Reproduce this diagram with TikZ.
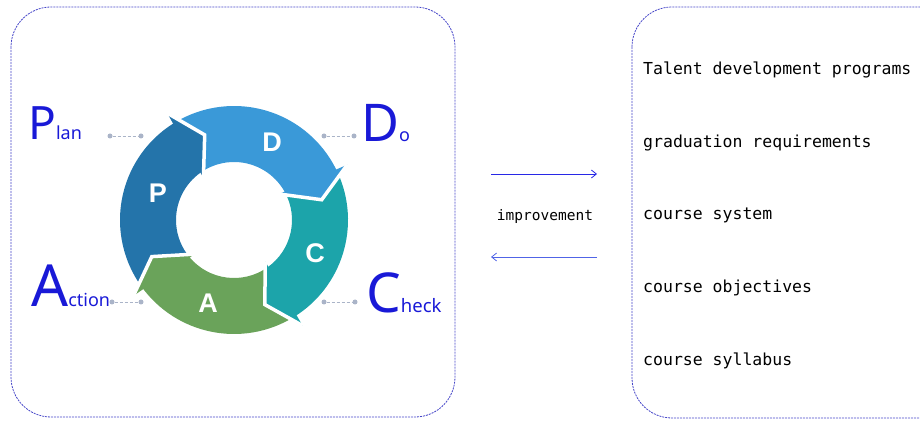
\documentclass[tikz,border=0pt]{standalone}
\usepackage{fontspec}
\setmainfont{Noto Sans}
\setmonofont{DejaVu Sans Mono}
\newfontfamily\segfont{Liberation Sans}
\usetikzlibrary{arrows.meta,positioning,calc}
\definecolor{labelblue}{RGB}{25,25,215}
\definecolor{frameblue}{RGB}{70,70,200}
\definecolor{leadgray}{RGB}{170,180,200}
\definecolor{plancol}{RGB}{36,116,170}
\definecolor{docol}{RGB}{58,153,216}
\definecolor{checkcol}{RGB}{28,164,170}
\definecolor{actcol}{RGB}{106,163,90}

\begin{document}
\begin{tikzpicture}[x=1pt,y=1pt,
frame/.style={draw=frameblue,line width=0.8pt,dash pattern=on 2pt off 1pt,rounded corners=40pt},
item/.style={anchor=west,inner sep=0pt,font=\ttfamily\fontsize{16.5}{16.5}\selectfont},
big/.style={anchor=base west,inner sep=0pt,text=labelblue},
letter/.style={text=white,inner sep=0pt,font=\segfont\bfseries\fontsize{27}{27}\selectfont},
gap/.style={draw=white,line width=3.5pt,line join=miter},
lead/.style={leadgray,densely dashed,line width=0.6pt},
dot/.style={circle,fill=leadgray,inner sep=0pt,minimum size=5pt},
flow/.style={-{Straight Barb[length=5pt,width=8pt]},line width=0.8pt}]
\useasboundingbox (0,0) rectangle (920,420);
\clip (0,0) rectangle (920,420);
% Cornici
\draw[frame] (11,413) rectangle (455,3);
\draw[frame] (632,413) rectangle (960,2);
% Ciclo PDCA
\begin{scope}[shift={(234,200)}]
\fill[plancol] (215.5:114) arc[start angle=215.5,end angle=120.5,radius=114pt] -- (124.5:58) arc[start angle=124.5,end angle=219.5,radius=58pt] -- cycle;
\fill[docol] (120.5:114) arc[start angle=120.5,end angle=24.5,radius=114pt] -- (28.5:58) arc[start angle=28.5,end angle=124.5,radius=58pt] -- cycle;
\fill[checkcol] (24.5:114) arc[start angle=24.5,end angle=-58.5,radius=114pt] -- (-54.5:58) arc[start angle=-54.5,end angle=28.5,radius=58pt] -- cycle;
\fill[actcol] (-58.5:114) arc[start angle=-58.5,end angle=-144.5,radius=114pt] -- (-140.5:58) arc[start angle=-140.5,end angle=-54.5,radius=58pt] -- cycle;
\fill[plancol] (122:126) -- (109:90) -- (126:52) -- cycle;
\fill[docol] (26:126) -- (13:90) -- (30:52) -- cycle;
\fill[checkcol] (-57:126) -- (-70:90) -- (-53:52) -- cycle;
\fill[actcol] (217:126) -- (204:90) -- (221:52) -- cycle;
\draw[gap] (122:126) -- (109:90) -- (126:52);
\draw[gap] (26:126) -- (13:90) -- (30:52);
\draw[gap] (-57:126) -- (-70:90) -- (-53:52);
\draw[gap] (217:126) -- (204:90) -- (221:52);
\node[letter] (lp) at (-76,27) {P};
\node[letter] (ld) at (38,78) {D};
\node[letter] (lc) at (81,-33) {C};
\node[letter] (la) at (-26,-83) {A};
\end{scope}
% Etichette
\node[big] (plan) at (28,280) {\fontsize{46}{46}\selectfont P\fontsize{18}{18}\selectfont lan};
\node[big] (do) at (361,278) {\fontsize{52}{52}\selectfont D\fontsize{18}{18}\selectfont o};
\node[big] (act) at (31,113) {\fontsize{58}{58}\selectfont A\fontsize{18}{18}\selectfont ction};
\node[big] (chk) at (366,107) {\fontsize{55}{55}\selectfont C\fontsize{18.5}{18.5}\selectfont heck};
\node[dot] (pa) at (110,284) {}; \node[dot] (pb) at (141,284) {};
\node[dot] (da) at (324,284) {}; \node[dot] (db) at (354,284) {};
\node[dot] (aa) at (112,118) {}; \node[dot] (ab) at (141,118) {};
\node[dot] (ca) at (324,118) {}; \node[dot] (cb) at (355,118) {};
\draw[lead] (pa)--(pb);
\draw[lead] (da)--(db);
\draw[lead] (aa)--(ab);
\draw[lead] (ca)--(cb);
% Miglioramento
\coordinate (ia) at (491,246);
\coordinate (ib) at (597,246);
\coordinate (ic) at (597,163);
\coordinate (id) at (491,163);
\draw[flow,color={rgb,255:red,40;green,40;blue,230}] (ia) -- (ib);
\draw[flow,color={rgb,255:red,80;green,100;blue,230}] (ic) -- (id);
\node[font=\ttfamily\fontsize{14.5}{14.5}\selectfont] (imp) at (545,203) {improvement};
% Elenco
\node[item] (t1) at (643,350) {Talent development programs};
\node[item] (t2) at (643,277) {graduation requirements};
\node[item] (t3) at (643,205) {course system};
\node[item] (t4) at (643,132) {course objectives};
\node[item] (t5) at (643,59) {course syllabus};
\end{tikzpicture}
\end{document}
